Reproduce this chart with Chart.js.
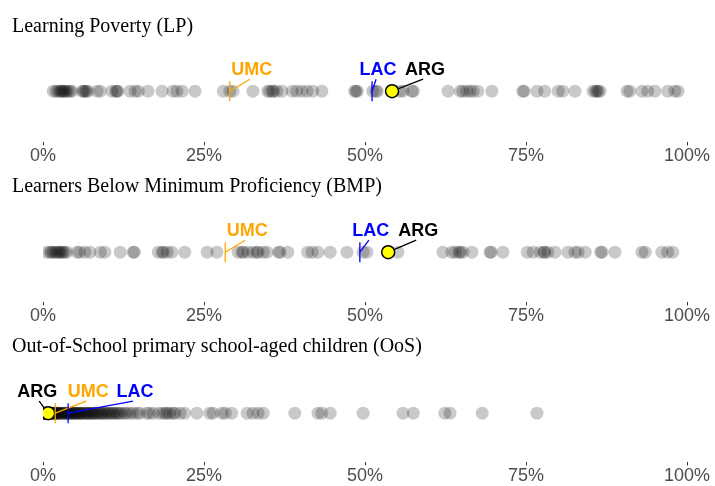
<!DOCTYPE html>
<html lang="en">
<head>
<meta charset="UTF-8">
<title>Learning poverty strip plots</title>
<script src="https://cdn.jsdelivr.net/npm/chart.js"></script>
<style>
  body { margin: 0; background: #fff; }
  #wrap { position: relative; width: 715px; height: 486px; overflow: hidden; }
  .panel { position: absolute; left: 0; }
  .ttl { position: absolute; left: 12px; font-family: 'Liberation Serif', 'Times New Roman', serif;
         font-size: 20px; color: #000; z-index: 2; white-space: nowrap; }
</style>
</head>
<body>
<div id="wrap">
  <div class="ttl" style="top:14px">Learning Poverty (LP)</div>
  <div class="ttl" style="top:174px">Learners Below Minimum Proficiency (BMP)</div>
  <div class="ttl" style="top:334px">Out-of-School primary school-aged children (OoS)</div>
  <canvas id="c1" class="panel" width="715" height="175" style="top:0"></canvas>
  <canvas id="c2" class="panel" width="715" height="175" style="top:160px"></canvas>
  <canvas id="c3" class="panel" width="715" height="167" style="top:320px"></canvas>
</div>
<script>
// country values (%) per indicator
const lpValues = [1.6, 2.0, 2.3, 2.6, 2.8, 3.0, 3.2, 3.4, 3.6, 3.9, 4.2, 4.5, 6.1, 6.3, 6.5, 6.7, 7.0, 8.4, 8.9,
  10.7, 11.3, 11.5, 11.6, 13.5, 14.3, 14.8, 16.3, 18.5, 20.2, 20.8, 21.6, 23.6, 28.0, 29.0, 29.5, 32.6,
  34.9, 35.2, 35.6, 35.8, 36.3, 37.1, 38.7, 39.4, 40.2, 41.0, 41.9, 43.3, 48.4, 48.6, 48.8, 51.2, 51.7, 51.9,
  55.4, 55.9, 57.3, 57.5, 62.9, 64.8, 65.2, 65.8, 66.3, 66.8, 67.5, 69.7, 74.5, 74.7, 76.7, 77.9, 80.0,
  80.7, 82.6, 85.4, 85.8, 86.0, 86.2, 86.5, 90.7, 91.1, 93.0, 93.9, 95.0, 97.0, 98.1, 98.6];

const bmpValues = [0.6, 1.1, 1.3, 1.6, 1.9, 2.2, 2.4, 2.6, 2.9, 3.1, 3.4, 3.7, 5.3, 5.7, 6.5, 7.3, 8.9, 9.6,
  12.0, 14.0, 14.2, 17.9, 18.5, 18.7, 19.3, 20.0, 22.0, 25.5, 27.0, 30.3, 30.9, 31.1, 31.8, 32.6, 33.2, 33.4,
  34.2, 34.8, 36.6, 36.8, 38.0, 41.1, 41.8, 42.7, 44.6, 47.2, 49.7, 50.3, 55.1, 62.1, 63.5, 64.0, 64.6, 64.8,
  65.2, 66.6, 69.4, 69.6, 71.4, 75.2, 76.1, 77.2, 77.8, 77.9, 78.4, 79.5, 81.5, 82.6, 83.1, 84.2, 86.6, 86.8,
  88.8, 93.0, 93.5, 96.1, 97.0, 97.8];

const oosValues = [0.0, 0.0, 0.0, 0.1, 0.2, 0.2, 0.3, 0.4, 0.4, 0.5, 0.6, 0.6, 0.7, 0.8, 0.9, 0.9, 1.0, 1.1,
  1.2, 1.2, 1.3, 1.4, 1.5, 1.5, 1.6, 1.7, 1.8, 1.9, 2.0, 2.1, 2.2, 2.3, 2.4, 2.5, 2.7, 2.8, 3.0, 3.1, 3.2,
  3.3, 3.5, 3.6, 3.8, 3.9, 4.0, 4.2, 4.3, 4.4, 4.6, 4.8, 4.9, 5.0, 5.1, 5.3, 5.5, 5.6, 5.8, 5.9, 6.1, 6.2,
  6.5, 6.6, 6.8, 7.0, 7.1, 7.3, 7.5, 7.7, 7.9, 8.0, 8.3, 8.5, 8.7, 9.0, 9.1, 9.3, 9.6, 9.8, 10.1, 10.3,
  10.6, 10.9, 11.0, 11.4, 11.6, 11.9, 12.2, 12.7, 13.0, 13.5, 14.0, 14.6, 15.0, 16.1, 16.5, 17.1, 18.0,
  18.6, 19.0, 19.3, 19.7, 20.2, 20.5, 21.3, 22.0, 23.9, 25.9, 26.4, 27.8, 28.3, 29.3, 31.7, 32.6, 33.4,
  34.2, 39.1, 42.7, 43.3, 44.6, 49.7, 55.9, 57.5, 62.4, 63.2, 68.2, 76.7];

// reference groups: upper-middle income, Latin America & Caribbean, Argentina
const refNames = ['UMC', 'LAC', 'ARG'];
const lpRefs = [29.0, 51.1, 54.2];
const bmpRefs = [28.3, 49.2, 53.6];
const oosRefs = [1.9, 3.9, 0.8];

const tickValues = [0, 25, 50, 75, 100];

const refColors = { UMC: '#FFA500', LAC: '#0000FF', ARG: '#000000' };

// label offsets (px) from the mark, like ggrepel put them
const labelOffsets = {
  c1: { UMC: 22, LAC: 6, ARG: 33 },
  c2: { UMC: 22, LAC: 11, ARG: 30 },
  c3: { UMC: 33, LAC: 67, ARG: -11 }
};

// per panel layout padding: [top, bottom]
const panelPad = { c1: [40, 8], c2: [42, 8], c3: [44, 0] };

const refPlugin = {
  id: 'refs',
  afterDatasetsDraw(chart) {
    const ctx = chart.ctx;
    const xs = chart.scales.x, ys = chart.scales.y;
    const refs = chart.options.plugins.refs;
    const y0 = ys.getPixelForValue(0);
    ctx.save();
    refNames.forEach((name, i) => {
      const x = xs.getPixelForValue(refs.values[i]);
      const dx = refs.offsets[name];
      const lx = x + dx, ly = y0 - 21;
      ctx.strokeStyle = refColors[name];
      ctx.lineWidth = 1.3;
      if (name !== 'ARG') {
        ctx.beginPath();
        ctx.moveTo(x, y0 - 10);
        ctx.lineTo(x, y0 + 10);
        ctx.stroke();
      }
      // leader line
      const ex = lx - Math.sign(dx) * 2, ey = y0 - 12;
      let sx = x, sy = y0;
      if (name === 'ARG') {
        const len = Math.hypot(ex - x, ey - y0);
        sx = x + (ex - x) / len * 7;
        sy = y0 + (ey - y0) / len * 7;
      }
      ctx.beginPath();
      ctx.moveTo(sx, sy);
      ctx.lineTo(ex, ey);
      ctx.stroke();
      ctx.fillStyle = refColors[name];
      ctx.font = 'bold 18px "Liberation Sans", Arial, sans-serif';
      ctx.textAlign = 'center';
      ctx.textBaseline = 'middle';
      ctx.fillText(name, lx, ly);
    });
    ctx.restore();
  }
};

function makeStrip(id, values, refs) {
  new Chart(document.getElementById(id), {
    type: 'scatter',
    data: {
      datasets: [{
        data: values.map(v => ({ x: v, y: 0 })),
        backgroundColor: 'rgba(0,0,0,0.21)',
        borderWidth: 0,
        pointRadius: 6.5,
        order: 2
      }, {
        data: [{ x: refs[2], y: 0 }],
        backgroundColor: '#FFFF00',
        borderColor: '#000',
        borderWidth: 1.5,
        pointRadius: 6.5,
        order: 1
      }]
    },
    options: {
      responsive: false,
      animation: false,
      layout: { padding: { left: 43, right: 28, top: panelPad[id][0], bottom: panelPad[id][1] } },
      plugins: {
        legend: { display: false },
        tooltip: { enabled: false },
        refs: { values: refs, offsets: labelOffsets[id] }
      },
      scales: {
        x: {
          type: 'linear', min: 0, max: 100,
          afterBuildTicks: s => { s.ticks = tickValues.map(v => ({ value: v })); },
          afterFit: s => { s.paddingLeft = 0; s.paddingRight = 0; },
          grid: { display: true, drawOnChartArea: false, drawTicks: true, tickLength: 3,
                  tickColor: '#333333', tickWidth: 1 },
          border: { display: false },
          ticks: {
            padding: 0,
            maxRotation: 0,
            autoSkip: false,
            color: '#4D4D4D',
            font: { family: '"Liberation Sans", Arial, sans-serif', size: 18 },
            callback: v => v + '%'
          }
        },
        y: { display: false, min: -1, max: 1 }
      }
    },
    plugins: [refPlugin]
  });
}

makeStrip('c1', lpValues, lpRefs);
makeStrip('c2', bmpValues, bmpRefs);
makeStrip('c3', oosValues, oosRefs);
</script>
</body>
</html>
